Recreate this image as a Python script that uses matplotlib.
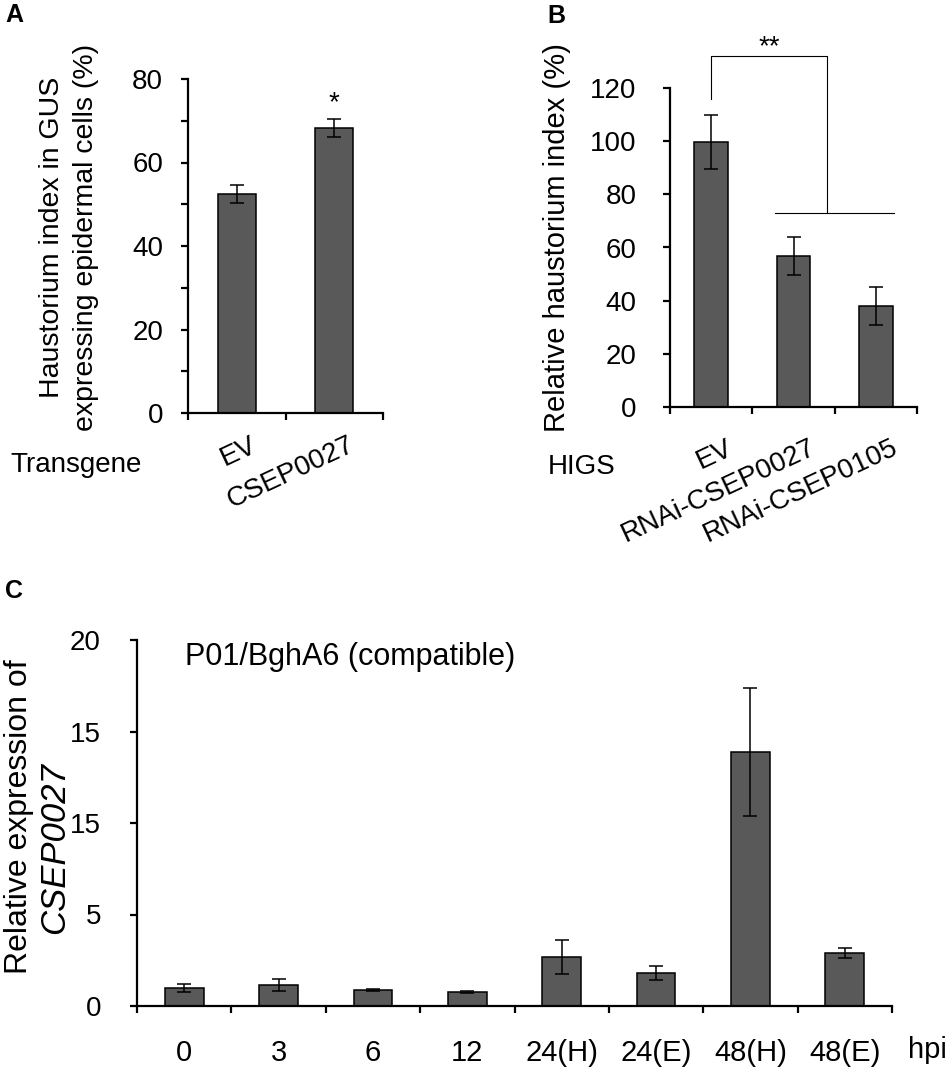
import numpy as np
import matplotlib.pyplot as plt
from matplotlib.transforms import ScaledTranslation

plt.rcParams['font.family'] = ['Liberation Sans', 'DejaVu Sans']
plt.rcParams['font.size'] = 20

# panel A: haustorium index in GUS expressing cells
a_labels = ["EV", "CSEP0027"]
a_values = [52.5, 68.2]
a_errors = [2.2, 2.2]

# panel B: HIGS relative haustorium index
b_labels = ["EV", "RNAi-CSEP0027", "RNAi-CSEP0105"]
b_values = [99.8, 56.8, 38.0]
b_errors = [10.2, 7.0, 7.2]

# panel C: expression time course
c_labels = ["0", "3", "6", "12", "24(H)", "24(E)", "48(H)", "48(E)"]
c_values = [0.98, 1.15, 0.88, 0.78, 2.68, 1.80, 13.9, 2.90]
c_errors = [0.20, 0.35, 0.07, 0.05, 0.95, 0.38, 3.5, 0.27]
c_yticks = [0, 5, 10, 15, 20]
c_yticklabels = ["0", "5", "15", "15", "20"]

BAR = "#595959"
W, H = 950, 1071

fig = plt.figure(figsize=(W / 100, H / 100), dpi=100)


def px_axes(left, top, right, bottom):
    return fig.add_axes([left / W, 1 - bottom / H, (right - left) / W, (bottom - top) / H])


def bars(ax, labels, values, errors, width, lab_pad, ytick_pad, rot, dx, fs=20):
    n = len(labels)
    x = np.arange(n)
    ax.bar(x, values, width=width, color=BAR, edgecolor="black", linewidth=1.1,
           yerr=errors, error_kw=dict(ecolor="black", elinewidth=1.1, capsize=5, capthick=1.1))
    for s in ("top", "right"):
        ax.spines[s].set_visible(False)
    for s in ("left", "bottom"):
        ax.spines[s].set_linewidth(1.6)
    ax.set_xlim(-0.5, n - 0.5)
    ax.set_xticks(np.arange(n + 1) - 0.5)
    ax.set_xticklabels([])
    ax.tick_params(axis="x", which="major", direction="out", length=5, width=1.6)
    ax.set_xticks(x, minor=True)
    if rot:
        ax.set_xticklabels(labels, minor=True, rotation=rot, ha="right", rotation_mode="anchor")
    else:
        ax.set_xticklabels(labels, minor=True)
    ax.tick_params(axis="x", which="minor", length=0, pad=lab_pad, labelsize=fs)
    ax.tick_params(axis="y", which="both", direction="out", length=5, width=1.6, pad=ytick_pad)
    if dx:
        shift = ScaledTranslation(dx / 100, 0, fig.dpi_scale_trans)
        for lbl in ax.get_xticklabels(minor=True):
            lbl.set_transform(lbl.get_transform() + shift)
    return x


# ---- A
axA = px_axes(188, 79, 383, 413)
xa = bars(axA, a_labels, a_values, a_errors, 0.39, 13.5, 13, 25, 13)
axA.set_ylim(0, 80)
axA.set_yticks(np.arange(0, 81, 20))
axA.set_yticks(np.arange(10, 80, 20), minor=True)
axA.text(xa[1], a_values[1] + a_errors[1] + 0.6, "*", ha="center", va="bottom", fontsize=20)
fig.text(69 / W, 1 - 237 / H, "Haustorium index in GUS\nexpressing epidermal cells (%)",
         rotation=90, ha="center", va="center", linespacing=1.37, fontsize=20.5)
fig.text(10 / W, 1 - 465 / H, "Transgene", ha="left", va="center")
fig.text(5 / W, 1 - 3 / H, "A", ha="left", va="top", fontsize=18, weight="bold")

# ---- B
axB = px_axes(670, 88, 917, 407)
xb = bars(axB, b_labels, b_values, b_errors, 0.41, 20, 19, 25, 15)
axB.set_ylim(0, 120)
axB.set_yticks(np.arange(0, 121, 20))
# significance bracket
top_y = 132
axB.plot([xb[0], xb[0], 1.41, 1.41], [116, top_y, top_y, 73], color="black", lw=0.8, clip_on=False)
axB.plot([0.77, 2.22], [73, 73], color="black", lw=0.8, clip_on=False)
axB.text(0.7, top_y - 1.6, "**", ha="center", va="bottom", fontsize=20)
fig.text(557 / W, 1 - 238 / H, "Relative haustorium index (%)", rotation=90,
         ha="center", va="center", fontsize=21)
fig.text(548 / W, 1 - 467 / H, "HIGS", ha="left", va="center")
fig.text(547 / W, 1 - 4 / H, "B", ha="left", va="top", fontsize=18, weight="bold")

# ---- C
axC = px_axes(137, 640, 892, 1006)
xc = bars(axC, c_labels, c_values, c_errors, 0.41, 24, 21, 0, 0, fs=21)
axC.set_ylim(0, 20)
axC.set_yticks(c_yticks)
axC.set_yticklabels(c_yticklabels)
axC.text(0.064, 0.954, "P01/BghA6 (compatible)", transform=axC.transAxes,
         ha="left", va="center", fontsize=22)
fig.text(19 / W, 1 - 817 / H, "Relative expression of", rotation=90,
         ha="center", va="center", fontsize=23)
fig.text(55 / W, 1 - 848 / H, "CSEP0027", rotation=90, ha="center", va="center",
         style="italic", fontsize=25)
fig.text(908 / W, 1 - 1050 / H, "hpi", ha="left", va="center", fontsize=21)
fig.text(5 / W, 1 - 579 / H, "C", ha="left", va="top", fontsize=18, weight="bold")

fig.savefig("out.png", dpi=100)
